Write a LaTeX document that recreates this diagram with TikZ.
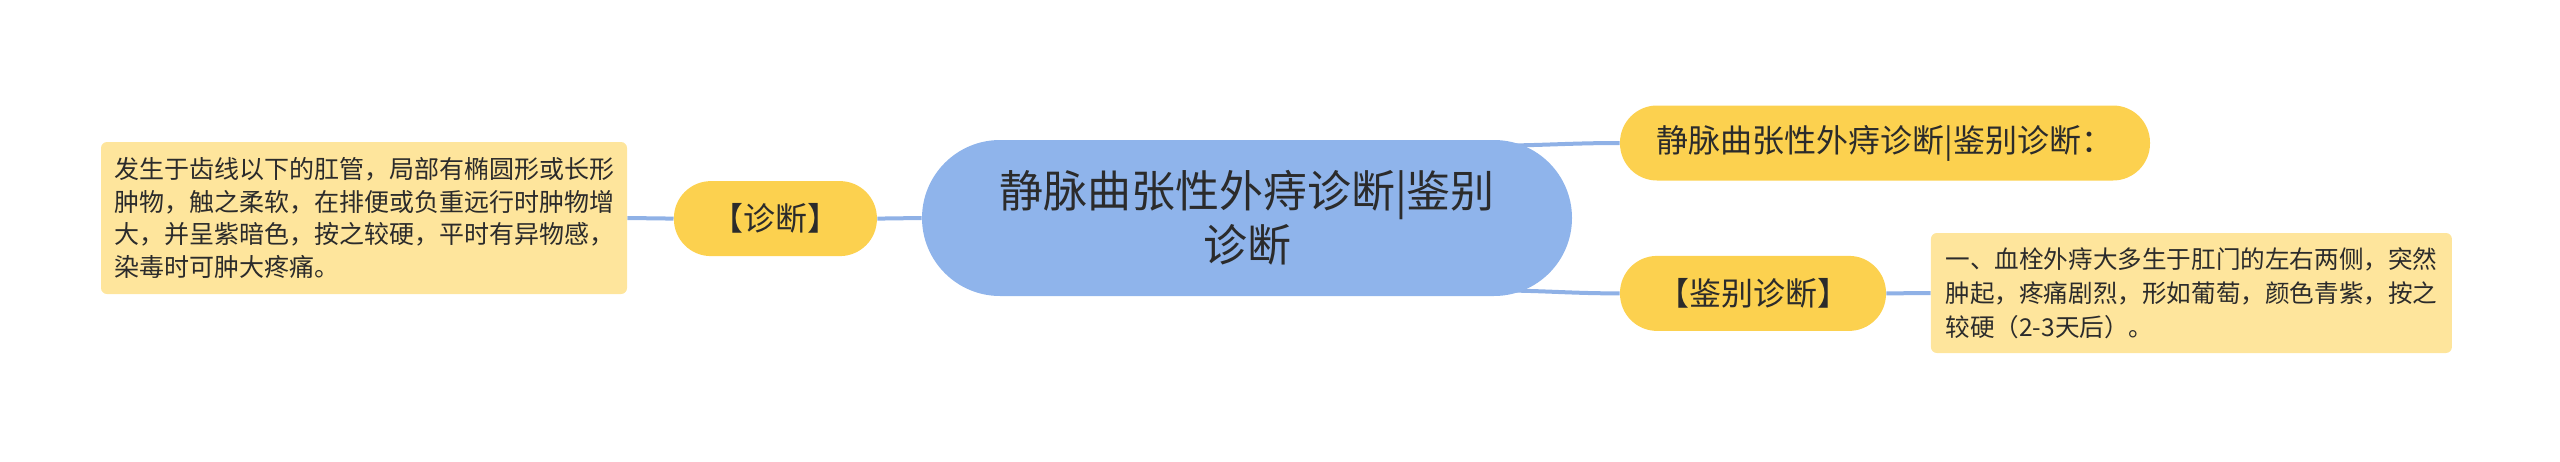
\documentclass[tikz,border=0pt]{standalone}
\usepackage{fontspec}
\setmainfont{Noto Sans CJK SC}
\usetikzlibrary{backgrounds,calc}
\definecolor{cblue}{HTML}{8FB4EB}
\definecolor{lblue}{HTML}{8FB1E6}
\definecolor{cyel}{HTML}{FCD14F}
\definecolor{lyel}{HTML}{FEE59C}
\definecolor{ctext}{HTML}{2B2B2B}
\begin{document}
\begin{tikzpicture}[x=1pt,y=1pt,
  every node/.style={text=ctext},
  rootnode/.style={fill=cblue, rounded corners=39pt, minimum width=325pt, minimum height=78pt, inner sep=0pt, align=center, font=\fontsize{22}{27}\selectfont},
  branch/.style={fill=cyel, rounded corners=18.5pt, minimum height=37.5pt, inner sep=0pt, font=\fontsize{16}{19}\selectfont},
  leaf/.style={fill=lyel, rounded corners=3pt, inner sep=0pt, align=left},
  conn/.style={draw=lblue, line width=2pt}
]
\useasboundingbox (0,0) rectangle (1280,-230.5);

\node[rootnode] (c) at (623.5,-109) {静脉曲张性外痔诊断|鉴别\\诊断};
\node[branch, minimum width=101.5pt] (zd) at (387.7,-109.3) {【诊断】};
\node[branch, minimum width=265pt] (t) at (942.5,-71.5) {静脉曲张性外痔诊断|鉴别诊断：};
\node[branch, minimum width=133pt] (jb) at (876.5,-146.7) {【鉴别诊断】};
\node[leaf, minimum width=263pt, minimum height=76pt, font=\fontsize{12.5}{16.3}\selectfont] (l1) at (182,-109) {发生于齿线以下的肛管，局部有椭圆形或长形\\肿物，触之柔软，在排便或负重远行时肿物增\\大，并呈紫暗色，按之较硬，平时有异物感，\\染毒时可肿大疼痛。};
\node[leaf, minimum width=260.5pt, minimum height=60pt, font=\fontsize{12.3}{17}\selectfont] (l2) at (1095.7,-146.5) {一、血栓外痔大多生于肛门的左右两侧，突然\\肿起，疼痛剧烈，形如葡萄，颜色青紫，按之\\较硬（2-3天后）。};

\coordinate (ct) at ($(c.north east)+(-40pt,-3pt)$);
\coordinate (cb) at ($(c.south east)+(-40pt,3pt)$);

\begin{scope}[on background layer]
\draw[conn] (c.west) -- (zd.east);
\draw[conn] (zd.west) -- (l1.east);
\draw[conn] (ct) to[out=0,in=180] (t.west);
\draw[conn] (cb) to[out=0,in=180] (jb.west);
\draw[conn] (jb.east) -- (l2.west);
\end{scope}
\end{tikzpicture}
\end{document}
